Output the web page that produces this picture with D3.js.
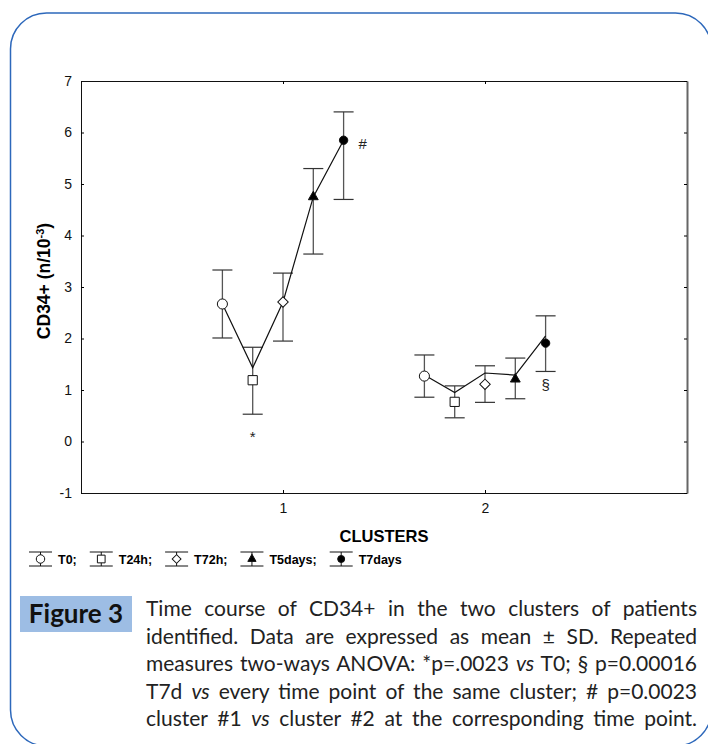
<!DOCTYPE html>
<html>
<head>
<meta charset="utf-8">
<script src="https://cdn.jsdelivr.net/npm/d3@7"></script>
<style>
  body { margin: 0; background: #fff; }
  #wrap { position: relative; width: 708px; height: 744px; overflow: hidden; }
  #caption {
    position: absolute; left: 146px; top: 594px; width: 551px;
    font-family: Lato, "Open Sans", sans-serif; font-size: 21px; line-height: 27.5px; color: #222;
  }
  #caption div { text-align: justify; text-align-last: justify; white-space: nowrap; }
</style>
</head>
<body>
<div id="wrap"></div>
<script>
const W = 708
const H = 744

// chart values
const clusters = [1, 2]
const timepoints = ['T0', 'T24h', 'T72h', 'T5days', 'T7days']
const legendLabels = ['T0;', 'T24h;', 'T72h;', 'T5days;', 'T7days']
const yTicks = [-1, 0, 1, 2, 3, 4, 5, 6, 7]

const meanC1 = [2.67, 1.19, 2.71, 4.75, 5.85]
const upperC1 = [3.33, 1.83, 3.27, 5.30, 6.40]
const lowerC1 = [2.01, 0.53, 1.95, 3.64, 4.70]
const lineC1 = [2.67, 1.43, 2.71, 4.75, 5.85]

const meanC2 = [1.27, 0.77, 1.11, 1.21, 1.91]
const upperC2 = [1.68, 1.08, 1.47, 1.62, 2.44]
const lowerC2 = [0.86, 0.46, 0.76, 0.83, 1.36]
const lineC2 = [1.29, 0.95, 1.33, 1.29, 2.05]

const marks = [
  { text: '*', cluster: 1, tp: 'T24h', value: 0.1 },
  { text: '#', cluster: 1, tp: 'T7days', value: 5.78, dx: 19 },
  { text: '§', cluster: 2, tp: 'T7days', value: 1.1 }
]

const captionLines = [
  ['Time course of CD34+ in the two clusters of patients'],
  ['identified. Data are expressed as mean ± SD. Repeated'],
  ['measures two-ways ANOVA: *p=.0023 ', ['vs'], ' T0; § p=0.00016'],
  ['T7d ', ['vs'], ' every time point of the same cluster; # p=0.0023'],
  ['cluster #1 ', ['vs'], ' cluster #2 at the corresponding time point.']
]

const series = [
  { cluster: 1, mean: meanC1, upper: upperC1, lower: lowerC1, line: lineC1 },
  { cluster: 2, mean: meanC2, upper: upperC2, lower: lowerC2, line: lineC2 }
]

const margin = { left: 81, right: 687, top: 81, bottom: 493 }

const xScale = d3.scaleLinear().domain([0, 3]).range([margin.left, margin.right])
const yScale = d3.scaleLinear().domain([-1, 7]).range([margin.bottom, margin.top])
const offset = d3.scalePoint().domain(timepoints).range([-0.3, 0.3])

const symbols = {
  T0: { type: d3.symbolCircle, size: 80, fill: '#fff', rot: 0 },
  T24h: { type: d3.symbolSquare, size: 85, fill: '#fff', rot: 0 },
  T72h: { type: d3.symbolSquare, size: 55, fill: '#fff', rot: 45 },
  T5days: { type: d3.symbolTriangle, size: 42, fill: '#000', rot: 0 },
  T7days: { type: d3.symbolCircle, size: 55, fill: '#000', rot: 0 }
}

const wrap = d3.select('#wrap')
const svg = wrap.append('svg').attr('width', W).attr('height', H)

// blue rounded frame
svg.append('rect')
  .attr('x', 10.5).attr('y', 13).attr('width', 701).attr('height', 733)
  .attr('rx', 36).attr('ry', 36)
  .attr('fill', 'none').attr('stroke', '#2d68bb').attr('stroke-width', 1.5)

// axes (ticks inward)
const axisFont = '"Liberation Sans", Arial, sans-serif'
const fmt = d => String(d)

const yAxis = svg.append('g')
  .attr('transform', `translate(${margin.left},0)`)
  .call(d3.axisLeft(yScale).tickValues(yTicks).tickFormat(fmt).tickSize(-3).tickPadding(9).tickSizeOuter(0))
yAxis.attr('font-family', null).attr('font-size', null)
yAxis.selectAll('text').style('font-family', axisFont).style('font-size', '14px').attr('fill', '#111')

const xAxis = svg.append('g')
  .attr('transform', `translate(0,${margin.bottom})`)
  .call(d3.axisBottom(xScale).tickValues(clusters).tickFormat(fmt).tickSize(-3).tickPadding(10).tickSizeOuter(0))
xAxis.attr('font-family', null).attr('font-size', null)
xAxis.selectAll('text').style('font-family', axisFont).style('font-size', '14px').attr('fill', '#111')

svg.append('g')
  .attr('transform', `translate(0,${margin.top})`)
  .call(d3.axisTop(xScale).tickValues(clusters).tickSize(-3).tickFormat('').tickSizeOuter(0))

const rAxis = svg.append('g')
  .attr('transform', `translate(${margin.right},0)`)
  .call(d3.axisRight(yScale).tickValues(yTicks).tickSize(-3).tickFormat('').tickSizeOuter(0))
rAxis.select('.domain').attr('stroke', '#666').attr('stroke-width', 2)

svg.selectAll('.domain').filter(function () { return this.parentNode !== rAxis.node() })
  .attr('stroke', '#111')

// axis titles
svg.append('text')
  .attr('transform', `translate(50,${(margin.top + margin.bottom) / 2 - 6}) rotate(-90)`)
  .attr('text-anchor', 'middle')
  .style('font-family', axisFont).style('font-size', '17.5px').attr('font-weight', 'bold')
  .call(t => {
    t.append('tspan').text('CD34+ (n/10')
    t.append('tspan').attr('dy', -6).style('font-size', '11px').text('-3')
    t.append('tspan').attr('dy', 6).text(')')
  })

svg.append('text')
  .attr('x', (margin.left + margin.right) / 2).attr('y', 542)
  .attr('text-anchor', 'middle')
  .style('font-family', axisFont).style('font-size', '16.5px').attr('font-weight', 'bold')
  .text('CLUSTERS')

const px = (c, tp) => xScale(c + offset(tp))
const symbolPath = (tp, k) => d3.symbol().type(symbols[tp].type).size(symbols[tp].size * k)()

// series
series.forEach(function (s) {
  const g = svg.append('g')
  const rows = timepoints.map((tp, i) => ({
    tp, mean: s.mean[i], upper: s.upper[i], lower: s.lower[i], line: s.line[i]
  }))

  g.selectAll('.stem').data(rows).enter().append('line')
    .attr('x1', d => px(s.cluster, d.tp)).attr('x2', d => px(s.cluster, d.tp))
    .attr('y1', d => yScale(d.upper)).attr('y2', d => yScale(d.lower))
    .attr('stroke', '#555').attr('stroke-width', 1.3)

  ;['upper', 'lower'].forEach(function (k) {
    g.selectAll('.cap-' + k).data(rows).enter().append('line')
      .attr('x1', d => px(s.cluster, d.tp) - 10).attr('x2', d => px(s.cluster, d.tp) + 10)
      .attr('y1', d => yScale(d[k])).attr('y2', d => yScale(d[k]))
      .attr('stroke', '#333').attr('stroke-width', 1.2)
  })

  g.append('path')
    .attr('d', d3.line().x(d => px(s.cluster, d.tp)).y(d => yScale(d.line))(rows))
    .attr('fill', 'none').attr('stroke', '#111').attr('stroke-width', 1.2)

  g.selectAll('.pt').data(rows).enter().append('path')
    .attr('transform', d => `translate(${px(s.cluster, d.tp)},${yScale(d.mean)}) rotate(${symbols[d.tp].rot})`)
    .attr('d', d => symbolPath(d.tp, 1))
    .attr('fill', d => symbols[d.tp].fill)
    .attr('stroke', '#111').attr('stroke-width', 1)
})

// significance marks
svg.selectAll('.mark').data(marks).enter().append('text')
  .attr('x', d => px(d.cluster, d.tp) + (d.dx || 0))
  .attr('y', d => yScale(d.value))
  .attr('dy', '0.35em')
  .attr('text-anchor', 'middle')
  .style('font-family', axisFont).style('font-size', '15px')
  .attr('fill', '#222')
  .text(d => d.text)

// legend
const legend = svg.append('g').attr('transform', 'translate(29,559)')
let lx = 0
legendLabels.forEach(function (label, i) {
  const tp = timepoints[i]
  const item = legend.append('g').attr('transform', `translate(${lx},0)`)
  item.append('line').attr('x1', 0).attr('x2', 23).attr('y1', -7).attr('y2', -7).attr('stroke', '#111')
  item.append('line').attr('x1', 0).attr('x2', 23).attr('y1', 7).attr('y2', 7).attr('stroke', '#111')
  item.append('line').attr('x1', 11.5).attr('x2', 11.5).attr('y1', -7).attr('y2', 7).attr('stroke', '#111')
  item.append('path')
    .attr('transform', `translate(11.5,0) rotate(${symbols[tp].rot})`)
    .attr('d', symbolPath(tp, 0.7))
    .attr('fill', symbols[tp].fill).attr('stroke', '#111')
  const t = item.append('text')
    .attr('x', 29).attr('y', 0).attr('dy', '0.36em')
    .style('font-family', axisFont).style('font-size', '12.5px').attr('font-weight', 'bold')
    .text(label)
  lx += 29 + t.node().getComputedTextLength() + 13
})

// figure label
svg.append('rect')
  .attr('x', 20).attr('y', 596).attr('width', 112).attr('height', 36)
  .attr('fill', '#9dbde4')
svg.append('text')
  .attr('x', 76).attr('y', 623)
  .attr('text-anchor', 'middle')
  .style('font-family', 'Lato, "Open Sans", sans-serif').style('font-size', '26px').attr('font-weight', 'bold')
  .attr('fill', '#111')
  .text('Figure 3')

// caption
const cap = wrap.append('div').attr('id', 'caption')
captionLines.forEach(function (parts) {
  const row = cap.append('div')
  parts.forEach(function (p) {
    if (Array.isArray(p)) row.append('i').text(p[0])
    else row.append('span').text(p)
  })
})
</script>
</body>
</html>
